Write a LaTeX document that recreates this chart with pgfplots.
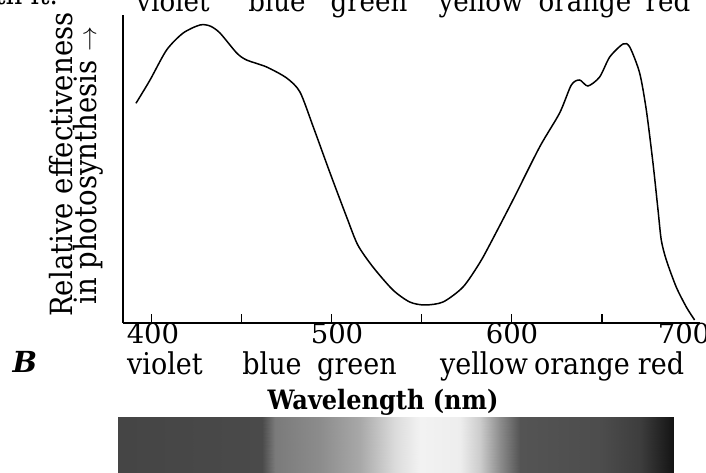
\documentclass[border=0pt]{standalone}
\usepackage{pgfplots}
\pgfplotsset{compat=1.18}
\usepackage{fontspec}
\setmainfont{DejaVu Serif}[FakeStretch=0.9]
\newfontfamily\numfont{DejaVu Serif}
\begin{document}
\begin{tikzpicture}[x=1pt,y=1pt]
\useasboundingbox (0,0) rectangle (706,473);
% main chart
\begin{axis}[at={(123pt,150pt)}, anchor=south west, scale only axis,
  width=577pt, height=308pt,
  xmin=384.2, xmax=704.4, ymin=0, ymax=308,
  axis x line=bottom, axis y line=left,
  axis line style={-, line width=1.4pt, black},
  xtick={400,450,500,550,600,650}, xticklabels={,,,,,},
  ytick=\empty,
  tick align=inside, major tick length=9pt,
  tick style={line width=1.2pt, black},
  clip=false]
\addplot[black, line width=1.5pt, smooth, tension=0.45] coordinates {
(391.4,219.7) (399.2,243) (408.4,273) (417.6,290) (426.9,298) (432.5,297)
(438.0,290) (447.3,270) (452.8,263) (463.9,256) (475.0,245) (482.4,231)
(489.8,196) (499.1,150) (508.3,106) (514.5,78) (522.9,56) (534.0,33)
(543.3,21) (551.6,18) (561.8,21) (572.9,36) (582.1,60) (588.5,81)
(600.6,123) (615.4,176) (626.5,210) (633.0,238) (637.6,243) (642.2,237)
(648.7,246) (654.3,266) (661.7,279) (665.4,276) (670.9,250) (674.6,213)
(678.3,160) (681.1,113) (682.9,83) (685.7,63) (691.2,36) (696.8,16) (701.4,3)
};
\end{axis}
% spectrum bar
\begin{axis}[at={(118pt,0pt)}, anchor=south west, scale only axis,
  width=555pt, height=56pt,
  xmin=118, xmax=673, ymin=0, ymax=1, zmin=-1, zmax=1,
  view={0}{90}, hide axis,
  colormap={bar}{gray(0cm)=(0); gray(1cm)=(1)},
  point meta min=0, point meta max=1]
\addplot3[surf, shader=interp, point meta=explicit] coordinates {
(118,0,0) [0.27] (262,0,0) [0.29] (275,0,0) [0.48] (320,0,0) [0.55] (360,0,0) [0.66] (395,0,0) [0.86] (420,0,0) [0.95] (460,0,0) [0.93] (480,0,0) [0.80] (500,0,0) [0.55] (520,0,0) [0.33] (600,0,0) [0.30] (640,0,0) [0.24] (673,0,0) [0.08]

(118,1,0) [0.27] (262,1,0) [0.29] (275,1,0) [0.48] (320,1,0) [0.55] (360,1,0) [0.66] (395,1,0) [0.86] (420,1,0) [0.95] (460,1,0) [0.93] (480,1,0) [0.80] (500,1,0) [0.55] (520,1,0) [0.33] (600,1,0) [0.30] (640,1,0) [0.24] (673,1,0) [0.08]
};
\end{axis}
% tick labels
\begin{scope}[every node/.style={inner sep=0pt, anchor=base, font=\numfont\fontsize{27.5}{28}\selectfont}]
\node at (153,129) {400};
\node at (337,129) {500};
\node at (512,129) {600};
\node at (684,129) {700};
\end{scope}
% colour words and labels
\begin{scope}[every node/.style={inner sep=0pt, anchor=base, font=\fontsize{30}{32}\selectfont}]
\node at (165,98) {violet};
\node at (272,98) {blue};
\node at (357,98) {green};
\node at (484,98) {yellow};
\node at (582,98) {orange};
\node at (661,98) {red};
\node[font=\fontsize{26.7}{28}\selectfont\bfseries] at (383,63) {Wavelength (nm)};
\end{scope}
% y label
\begin{scope}[every node/.style={inner sep=0pt, rotate=90, anchor=base west, font=\fontsize{30.6}{32}\selectfont}]
\node at (72,156) {Relative effectiveness};
\node at (96,168) {in photosynthesis $\rightarrow$};
\end{scope}
% text of the page above the figure, cut off at the top edge
\begin{scope}[every node/.style={inner sep=0pt, anchor=base, font=\fontsize{29}{30}\selectfont}]
\node at (173,461) {violet};
\node at (277,461) {blue};
\node at (369,461) {green};
\node at (481,461) {yellow};
\node at (585,461) {orange};
\node at (668,461) {red};
\node[anchor=base east] at (58,468) {ed with it.};
\end{scope}
\node[inner sep=0pt, anchor=base, font=\numfont\fontsize{29}{30}\selectfont\bfseries\itshape] at (25,100) {B};
\end{tikzpicture}
\end{document}
